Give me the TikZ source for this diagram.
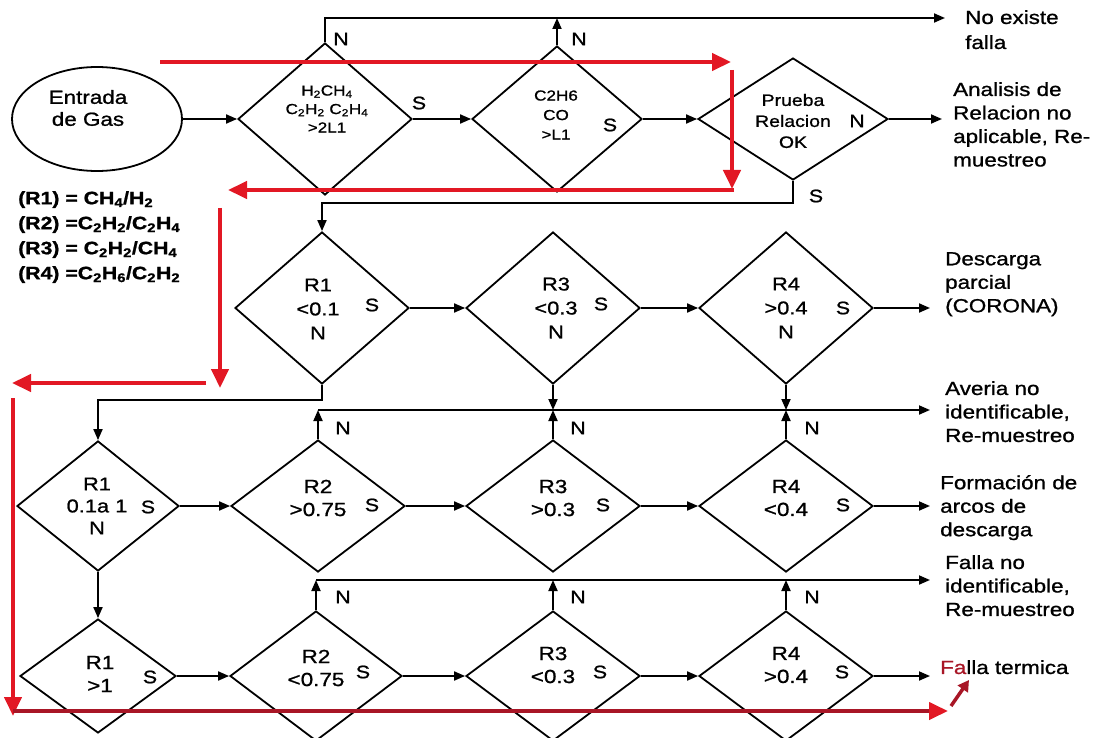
\documentclass[tikz,border=0pt]{standalone}
\usepackage{fontspec}
\setmainfont{Liberation Sans}[FakeStretch=1.18,FakeBold=1]
\usetikzlibrary{shapes.geometric,arrows.meta}
\definecolor{redA}{RGB}{226,24,36}
\definecolor{redB}{RGB}{168,22,38}
\newcommand\myfs[2]{\fontsize{#1}{#2}\selectfont}
\begin{document}
\begin{tikzpicture}[x=1pt,y=-1pt,
  dia/.style={draw,diamond,line width=1.8pt,inner sep=0pt},
  lbl/.style={inner sep=0pt,font=\myfs{18.5}{24},align=center},
  dsm/.style={inner sep=0pt,font=\myfs{14.5}{18.5},align=center},
  outtxt/.style={inner sep=0pt,font=\myfs{19}{23.5},align=left,anchor=north west},
  sn/.style={inner sep=0pt,font=\myfs{18}{20}},
  arr/.style={line width=1.8pt,-{Triangle[length=11pt,width=9pt]}},
  redarr/.style={line width=4.5pt,redA,-{Triangle[length=19pt,width=17pt]}}]
\useasboundingbox (0,0) rectangle (1097,738);
\fill[white] (0,0) rectangle (1097,738);

% ---------- row 1 ----------
\node[draw,ellipse,line width=1.8pt,minimum width=170,minimum height=104,inner sep=0pt] (ent) at (97,119) {};
\node[inner sep=0pt,font=\myfs{19}{22},align=center] at (88,108) {Entrada\\de Gas};
\node[dia,minimum width=174,minimum height=152] (d1) at (325,119) {};
\node[dsm] at (327,109) {H\textsubscript{2}CH\textsubscript{4}\\C\textsubscript{2}H\textsubscript{2} C\textsubscript{2}H\textsubscript{4}\\>2L1};
\node[dia,minimum width=170,minimum height=146] (d2) at (557,119) {};
\node[dsm,font=\myfs{14.5}{19.5}] at (556,115) {C2H6\\CO\\>L1};
\node[dia,minimum width=190,minimum height=122] (d3) at (793,119) {};
\node[lbl,font=\myfs{16.5}{21}] at (793,121) {Prueba\\Relacion\\OK};

\node[sn] at (341,39) {N};
\node[sn] at (579,39) {N};
\node[sn] at (419,103) {S};
\node[sn] at (610,125) {S};
\node[sn] at (857,121) {N};
\node[sn] at (816,196) {S};

\coordinate (oN) at (945,18);
\coordinate (oA) at (942,119);
\coordinate (sY) at (0,203);
\draw[arr] (ent) -- (d1);
\draw[arr] (d1) -- (d2);
\draw[arr] (d2) -- (d3);
\draw[arr] (d3.east) -- (oA);
\draw[arr] (d1.north) |- (oN);
\draw[arr] (d2.north) -- (d2.north |- oN);

\node[outtxt] at (965,10) {No existe\\[1.5pt]falla};
\node[outtxt] at (953,82) {Analisis de\\Relacion no\\aplicable, Re-\\muestreo};

% legend
\node[inner sep=0pt,font=\bfseries\myfs{18}{25},align=left,anchor=north west] at (18,191)
 {(R1) = CH\textsubscript{4}/H\textsubscript{2}\\
  (R2) =C\textsubscript{2}H\textsubscript{2}/C\textsubscript{2}H\textsubscript{4}\\
  (R3) = C\textsubscript{2}H\textsubscript{2}/CH\textsubscript{4}\\
  (R4) =C\textsubscript{2}H\textsubscript{6}/C\textsubscript{2}H\textsubscript{2}};

% ---------- row 2 ----------
\node[dia,minimum width=174,minimum height=152] (r1a) at (322,308) {};
\node[lbl] at (318,309) {R1\\<0.1\\N};
\node[dia,minimum width=174,minimum height=152] (r3a) at (553,308) {};
\node[lbl] at (556,308) {R3\\<0.3\\N};
\node[dia,minimum width=174,minimum height=152] (r4a) at (786,308) {};
\node[lbl] at (786,308) {R4\\>0.4\\N};
\node[sn] at (372,305) {S};
\node[sn] at (601,304) {S};
\node[sn] at (843,308) {S};
\coordinate (oD) at (930,308);
\draw[arr] (d3.south) -- (d3.south |- sY) -| (r1a.north);
\draw[arr] (r1a) -- (r3a);
\draw[arr] (r3a) -- (r4a);
\draw[arr] (r4a.east) -- (oD);
\node[outtxt] at (945,252) {Descarga\\parcial\\(CORONA)};

% ---------- row 3 ----------
\node[dia,minimum width=162,minimum height=130] (r1b) at (98,506) {};
\node[lbl,font=\myfs{18.5}{22}] at (97,506) {R1\\0.1a 1\\N};
\node[dia,minimum width=174,minimum height=132] (r2b) at (318,506) {};
\node[lbl,font=\myfs{19}{23}] at (318,498) {R2\\>0.75};
\node[dia,minimum width=174,minimum height=132] (r3b) at (553,506) {};
\node[lbl,font=\myfs{19}{23}] at (553,498) {R3\\>0.3};
\node[dia,minimum width=174,minimum height=132] (r4b) at (786,506) {};
\node[lbl,font=\myfs{19}{23}] at (786,498) {R4\\<0.4};
\node[sn] at (148,507) {S};
\node[sn] at (372,505) {S};
\node[sn] at (603,505) {S};
\node[sn] at (843,505) {S};
\node[sn] at (343,428) {N};
\node[sn] at (578,428) {N};
\node[sn] at (812,428) {N};

\coordinate (avL) at (318,410);
\coordinate (oAv) at (930,410);
\coordinate (oF) at (930,506);
\draw[arr] (r1a.south) -- ++(0,15) -| (r1b.north);
\draw[arr] (r2b.north) -- (avL);
\draw[arr] (avL) -- (oAv);
\draw[arr] (r3a.south) -- (r3a.south |- avL);
\draw[arr] (r3b.north) -- (r3b.north |- avL);
\draw[arr] (r4a.south) -- (r4a.south |- avL);
\draw[arr] (r4b.north) -- (r4b.north |- avL);
\draw[arr] (r1b) -- (r2b);
\draw[arr] (r2b) -- (r3b);
\draw[arr] (r3b) -- (r4b);
\draw[arr] (r4b.east) -- (oF);
\node[outtxt] at (945,381) {Averia no\\identificable,\\Re-muestreo};
\node[outtxt] at (940,475) {Formación de\\arcos de\\descarga};

% ---------- row 4 ----------
\node[dia,minimum width=156,minimum height=114] (r1c) at (98,676) {};
\node[lbl,font=\myfs{19}{23}] at (100,674) {R1\\>1};
\node[dia,minimum width=172,minimum height=130] (r2c) at (316,676) {};
\node[lbl,font=\myfs{19}{23}] at (316,668) {R2\\<0.75};
\node[dia,minimum width=174,minimum height=130] (r3c) at (553,676) {};
\node[lbl,font=\myfs{19}{23}] at (553,665) {R3\\<0.3};
\node[dia,minimum width=174,minimum height=130] (r4c) at (786,676) {};
\node[lbl,font=\myfs{19}{23}] at (786,665) {R4\\>0.4};
\node[sn] at (150,677) {S};
\node[sn] at (363,672) {S};
\node[sn] at (600,672) {S};
\node[sn] at (842,672) {S};
\node[sn] at (343,597) {N};
\node[sn] at (578,597) {N};
\node[sn] at (812,597) {N};

\coordinate (faL) at (316,580);
\coordinate (oFa) at (930,580);
\coordinate (oT) at (930,676);
\draw[arr] (r1b.south) -- (r1c.north);
\draw[arr] (r2c.north) -- (faL);
\draw[arr] (faL) -- (oFa);
\draw[arr] (r3c.north) -- (r3c.north |- faL);
\draw[arr] (r4c.north) -- (r4c.north |- faL);
\draw[arr] (r1c) -- (r2c);
\draw[arr] (r2c) -- (r3c);
\draw[arr] (r3c) -- (r4c);
\draw[arr] (r4c.east) -- (oT);
\node[outtxt] at (945,555) {Falla no\\identificable,\\Re-muestreo};
\node[outtxt] (ft) at (940,660) {\textcolor{redB}{Fa}lla termica};

% ---------- red path ----------
\coordinate (p1) at (160,62);  \coordinate (p2) at (731,62);
\coordinate (p3) at (732,70);  \coordinate (p4) at (732,189);
\coordinate (p5) at (734,190); \coordinate (p6) at (228,190);
\coordinate (p7) at (220,208); \coordinate (p8) at (220,388);
\coordinate (p9) at (206,383); \coordinate (p10) at (12,383);
\coordinate (p11) at (13,398); \coordinate (p12) at (13,716);
\coordinate (p13) at (13,711); \coordinate (p14) at (948,711);
\coordinate (p15) at (951,706); \coordinate (p16) at (969,680);
\draw[redarr] (p1) -- (p2);
\draw[redarr] (p3) -- (p4);
\draw[redarr] (p5) -- (p6);
\draw[redarr] (p7) -- (p8);
\draw[redarr] (p9) -- (p10);
\draw[redarr,line width=4pt] (p11) -- (p12);
\draw[line width=4pt,redB,-{Triangle[length=19pt,width=17pt,color=redA]}] (p13) -- (p14);
\draw[line width=3.5pt,redB,-{Triangle[length=11pt,width=12pt]}] (p15) -- (p16);
\end{tikzpicture}
\end{document}
